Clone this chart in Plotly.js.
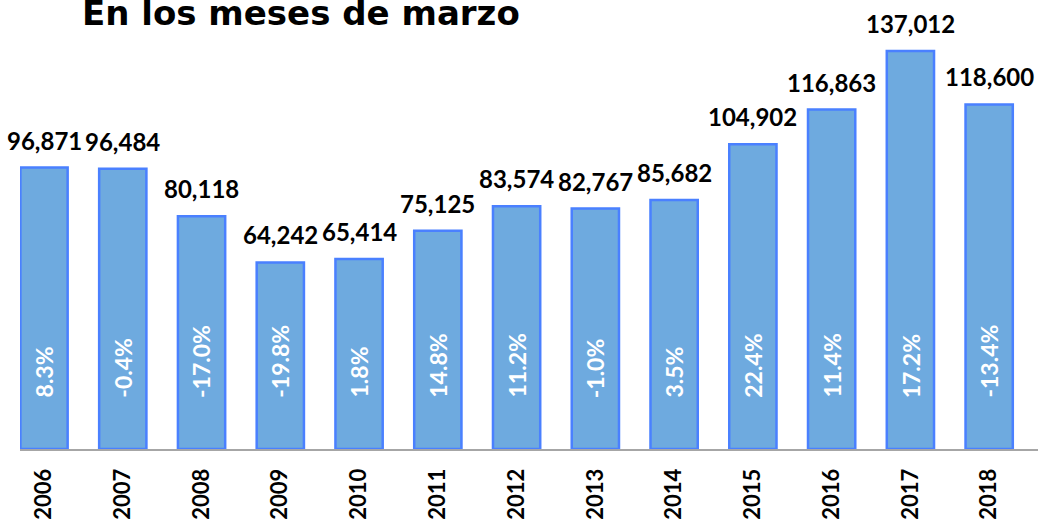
<!DOCTYPE html>
<html>
<head>
<meta charset="utf-8">
<script src="https://cdn.plot.ly/plotly-3.0.1.min.js"></script>
<style>html,body{margin:0;padding:0;background:#fff;}#chart{width:1038px;height:520px;}</style>
</head>
<body>
<div id="chart"></div>
<script>
const years = ['2006','2007','2008','2009','2010','2011','2012','2013','2014','2015','2016','2017','2018'];
const values = [96871, 96484, 80118, 64242, 65414, 75125, 83574, 82767, 85682, 104902, 116863, 137012, 118600];
const changes = [8.3, -0.4, -17.0, -19.8, 1.8, 14.8, 11.2, -1.0, 3.5, 22.4, 11.4, 17.2, -13.4];
const titleText = 'En los meses de marzo';

const fmt = v => v.toLocaleString('en-US');

const trace = {
  type: 'bar',
  x: years,
  y: values,
  width: 0.6,
  marker: {color: '#6eaadf', line: {color: '#4a80ff', width: 2.5}},
  hoverinfo: 'none'
};

const annotations = [];
years.forEach((yr, i) => {
  annotations.push({
    x: i, y: values[i], xref: 'x', yref: 'y',
    text: '<b>' + fmt(values[i]) + '</b>', showarrow: false,
    yanchor: 'bottom', yshift: 11,
    font: {family: 'Lato, sans-serif', size: 24, color: '#000'}
  });
  annotations.push({
    x: i, y: 16900, xref: 'x', yref: 'y',
    text: '<b>' + changes[i].toFixed(1) + '%</b>', showarrow: false,
    textangle: -90, yanchor: 'bottom',
    font: {family: 'Lato, sans-serif', size: 23, color: '#ffffff'}
  });
});

const layout = {
  width: 1038, height: 520,
  margin: {l: 20, r: 0, t: 40, b: 71},
  paper_bgcolor: '#fff', plot_bgcolor: '#fff',
  showlegend: false,
  title: {
    text: '<b>' + titleText + '</b>',
    x: 82/1038, xref: 'container', xanchor: 'left',
    y: 1 - 13/520, yref: 'container', yanchor: 'middle',
    font: {family: 'DejaVu Sans', size: 34, color: '#000'}
  },
  xaxis: {
    type: 'category',
    range: [-0.305, 12.62],
    showline: true, linecolor: '#a6a6a6', linewidth: 2,
    ticks: '', showgrid: false, zeroline: false,
    tickangle: -90,
    ticklabelstandoff: 9,
    tickvals: years,
    ticktext: years.map(y => '<b>' + y + '</b>'),
    tickfont: {family: 'Lato, sans-serif', size: 22, color: '#000'}
  },
  yaxis: {
    range: [0, 140800],
    visible: false, showgrid: false, zeroline: false
  },
  annotations: annotations
};

Plotly.newPlot('chart', [trace], layout, {displayModeBar: false, staticPlot: true});
</script>
</body>
</html>
